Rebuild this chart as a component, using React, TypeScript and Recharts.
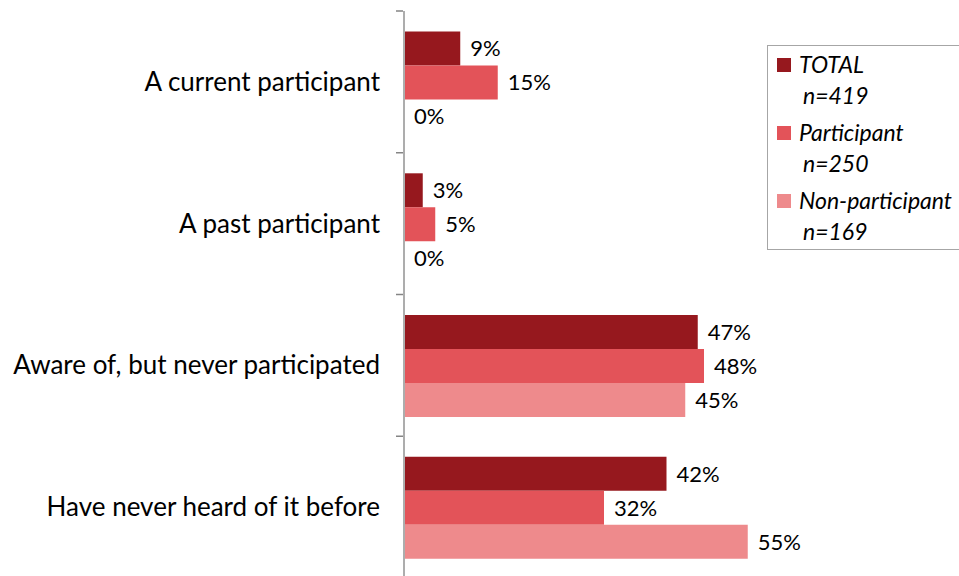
import React from 'react';
import { BarChart, Bar, XAxis, YAxis, LabelList, Legend } from 'recharts';

const categories = [
  'A current participant',
  'A past participant',
  'Aware of, but never participated',
  'Have never heard of it before',
];
const totalValues = [9, 3, 47, 42];
const participantValues = [15, 5, 48, 32];
const nonParticipantValues = [0, 0, 45, 55];

const seriesKeys = ['total', 'participant', 'nonParticipant'];
const seriesNames = ['TOTAL', 'Participant', 'Non-participant'];
const seriesCounts = ['n=419', 'n=250', 'n=169'];
const seriesColors = ['#96181E', '#E35359', '#EE8A8C'];

const data = categories.map((name, i) => ({
  name,
  total: totalValues[i],
  participant: participantValues[i],
  nonParticipant: nonParticipantValues[i],
}));

const W = 959;
const H = 590;
const MT = 11;
const MB = 12;
const AXIS_X = 404;
const BAND = (H - MT - MB) / categories.length;
const FONT = 'Lato, "Open Sans", sans-serif';
const AXIS_COLOR = '#ADADAD';
const TICK_COLOR = '#858585';

const CatTick = (props: any) => {
  const { y, payload } = props;
  const idx = categories.indexOf(payload.value);
  const top = y - BAND / 2;
  const bottom = y + BAND / 2;
  return (
    <g>
      <text
        x={AXIS_X - 24}
        y={y}
        dy="0.35em"
        textAnchor="end"
        fontSize={26}
        fontFamily={FONT}
        fill="#000"
      >
        {payload.value}
      </text>
      <line x1={AXIS_X - 8} x2={AXIS_X - 1} y1={top} y2={top} stroke={TICK_COLOR} strokeWidth={1.5} />
      {idx === categories.length - 1 && (
        <line x1={AXIS_X - 8} x2={AXIS_X - 1} y1={bottom} y2={bottom} stroke={TICK_COLOR} strokeWidth={1.5} />
      )}
    </g>
  );
};

const LegendBox = () => (
  <div
    style={{
      width: 200,
      height: 205,
      border: '1px solid #A6A6A6',
      boxSizing: 'border-box',
      background: '#fff',
      paddingTop: 3,
      fontFamily: FONT,
      fontStyle: 'italic',
      fontSize: 23,
      color: '#000',
    }}
  >
    {seriesNames.map((n, i) => (
      <div key={n} style={{ height: 68, position: 'relative' }}>
        <div
          style={{
            position: 'absolute',
            left: 9,
            top: 9,
            width: 14,
            height: 14,
            background: seriesColors[i],
          }}
        />
        <div style={{ position: 'absolute', left: 31, top: 0, lineHeight: '31px', whiteSpace: 'nowrap' }}>{n}</div>
        <div style={{ position: 'absolute', left: 35, top: 31, lineHeight: '31px', whiteSpace: 'nowrap' }}>
          {seriesCounts[i]}
        </div>
      </div>
    ))}
  </div>
);

export default function App() {
  return (
    <div
      style={{
        position: 'absolute',
        left: 0,
        top: 0,
        width: W,
        height: 576,
        overflow: 'hidden',
        background: '#fff',
      }}
    >
      <BarChart
        layout="vertical"
        width={W}
        height={H}
        data={data}
        margin={{ top: MT, right: 55, bottom: MB, left: 0 }}
        barCategoryGap="14.5%"
        barGap={0}
      >
        <XAxis type="number" domain={[0, 80]} hide />
        <YAxis
          type="category"
          dataKey="name"
          width={AXIS_X}
          axisLine={{ stroke: AXIS_COLOR, strokeWidth: 2 }}
          tickLine={false}
          tick={<CatTick />}
          interval={0}
        />
        <Legend
          content={<LegendBox />}
          wrapperStyle={{ position: 'absolute', left: 767, top: 45, width: 0, height: 0, overflow: 'visible' }}
        />
        {seriesKeys.map((k, i) => (
          <Bar
            key={k}
            dataKey={k}
            name={seriesNames[i]}
            fill={seriesColors[i]}
            minPointSize={0.01}
            isAnimationActive={false}
          >
            <LabelList
              dataKey={k}
              position="right"
              offset={10}
              formatter={(v: any) => `${v}%`}
              fontSize={22}
              fontFamily={FONT}
              fill="#000"
            />
          </Bar>
        ))}
      </BarChart>
    </div>
  );
}
